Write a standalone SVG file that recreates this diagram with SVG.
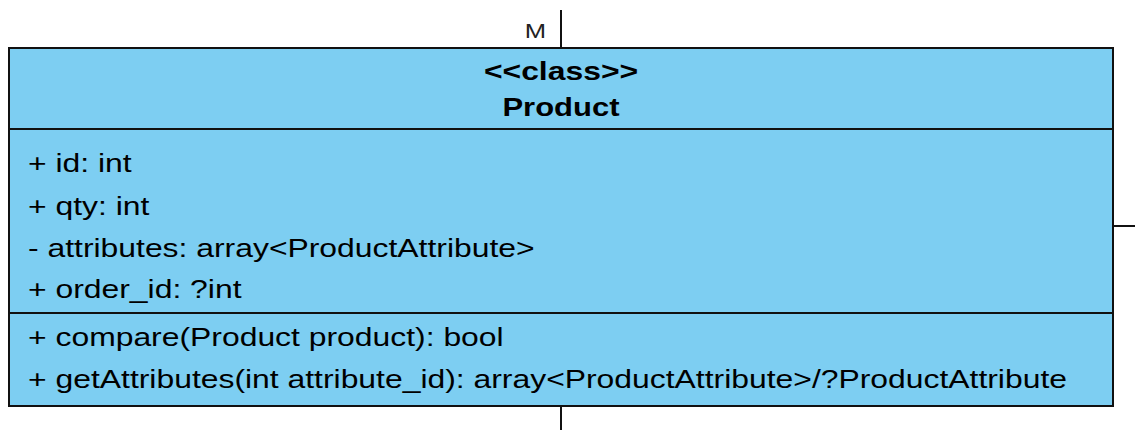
<svg xmlns="http://www.w3.org/2000/svg" width="1135" height="430" viewBox="0 0 1135 430">
  <style>
    .box { fill: #7dcef2; stroke: #111; stroke-width: 2; }
    .div { stroke: #111; stroke-width: 2; }
    .conn { stroke: #111; stroke-width: 2; fill: none; }
    .t { font-family: "Liberation Sans", Arial, sans-serif; fill: #000; }
    .head { font-weight: bold; text-anchor: middle; }
    .member { font-size: 25.5px; }
    .lbl { font-size: 21px; fill: #222; text-anchor: middle; }
  </style>
  <rect width="1135" height="430" fill="#fff"/>
  <g id="connectors">
    <line class="conn" x1="561" y1="10" x2="561" y2="48"/>
    <line class="conn" x1="1113" y1="226" x2="1135" y2="226"/>
    <line class="conn" x1="561" y1="406" x2="561" y2="430"/>
    <text class="t lbl" transform="translate(535.5,0) scale(1.22,1)" x="0" y="38">M</text>
  </g>
  <g id="product">
    <rect class="box" x="9" y="48" width="1104" height="358"/>
    <line class="div" x1="9" y1="129" x2="1113" y2="129"/>
    <line class="div" x1="9" y1="313" x2="1113" y2="313"/>
    <text class="t head" transform="translate(561,0) scale(1.25,1)" x="0" y="80" font-size="25.5">&lt;&lt;class&gt;&gt;</text>
    <text class="t head" transform="translate(561,0) scale(1.24,1)" x="0" y="116.5" font-size="25">Product</text>
    <!-- member rows, widened horizontally -->
    <g transform="translate(28,0) scale(1.25,1)">
      <text class="t member" x="0" y="172">+ id: int</text>
      <text class="t member" x="0" y="215">+ qty: int</text>
      <text class="t member" x="0" y="257">- attributes: array&lt;ProductAttribute&gt;</text>
      <text class="t member" x="0" y="298">+ order_id: ?int</text>
      <text class="t member" x="0" y="346.5">+ compare(Product product): bool</text>
      <text class="t member" x="0" y="388.5">+ getAttributes(int attribute_id): array&lt;ProductAttribute&gt;/?ProductAttribute</text>
    </g>
  </g>
</svg>
